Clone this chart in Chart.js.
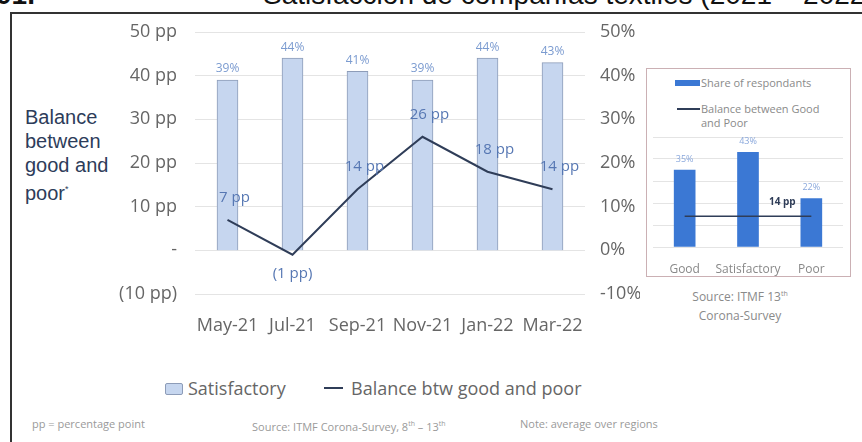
<!DOCTYPE html>
<html><head><meta charset="utf-8">
<script src="https://cdn.jsdelivr.net/npm/chart.js@4.4.1/dist/chart.umd.min.js"></script>
<style>
html,body{margin:0;padding:0;background:#fff;width:862px;height:442px;overflow:hidden;position:relative;font-family:"Open Sans",Arial,sans-serif;}
.abs{position:absolute;white-space:nowrap;}
#num{left:-4px;top:-19px;font:bold 28px "Liberation Sans",Arial,sans-serif;line-height:28px;color:#111;}
#title{left:263px;top:-19px;font:28px "Liberation Sans",Arial,sans-serif;line-height:28px;color:#111;}
#frame{left:10px;top:12px;width:900px;height:500px;border-left:2px solid #333;border-top:2px solid #333;}
#ytitle{left:25px;top:105px;font:20px "Liberation Sans",Arial,sans-serif;line-height:24px;color:#2d3c5a;}
#inbox{left:646px;top:68px;width:205px;height:209px;border:1.5px solid #cbb0b4;box-sizing:border-box;}
.inleg{font-size:11px;color:#8a8a8a;line-height:14px;}
.src{font-size:12px;color:#8a8a8a;text-align:center;line-height:19px;}
.leg{font-size:18px;color:#666;line-height:20px;}
.foot{font-size:11px;color:#9a9a9a;line-height:14px;}
</style></head>
<body>
<div id="num" class="abs">01.</div>
<div id="title" class="abs">Satisfacción de compañías textiles (2021 – 2022)</div>
<div id="frame" class="abs"></div>
<div id="ytitle" class="abs">Balance<br>between<br>good and<br>poor<sup style="font-size:9px">*</sup></div>
<canvas id="main" class="abs" style="left:0;top:0" width="640" height="340"></canvas>
<div id="inbox" class="abs"></div>
<div class="abs" style="left:675px;top:80px;width:25px;height:6px;background:#3b78d4"></div>
<div class="abs inleg" style="left:701px;top:76px">Share of respondants</div>
<div class="abs" style="left:677px;top:108px;width:23px;height:2px;background:#2f3d58"></div>
<div class="abs inleg" style="left:701px;top:102px">Balance between Good<br>and Poor</div>
<canvas id="inset" class="abs" style="left:647px;top:128px" width="205" height="148"></canvas>
<div class="abs src" style="left:680px;top:284px;width:120px">Source: ITMF 13<sup style="font-size:7px">th</sup><br>Corona-Survey</div>
<div class="abs" style="left:165px;top:383px;width:16px;height:10px;background:#c6d6ef;border:1px solid #8d9cb8;border-radius:2px"></div>
<div class="abs leg" style="left:188px;top:378px">Satisfactory</div>
<div class="abs" style="left:324px;top:387px;width:19px;height:2px;background:#2f3d58"></div>
<div class="abs leg" style="left:351px;top:378px">Balance btw good and poor</div>
<div class="abs foot" style="left:32px;top:417px">pp = percentage point</div>
<div class="abs foot" style="left:252px;top:417px">Source: ITMF Corona-Survey, 8<sup style="font-size:7px">th</sup> – 13<sup style="font-size:7px">th</sup></div>
<div class="abs foot" style="left:520px;top:417px">Note: average over regions</div>
<script>
// ---- data ----
const months = ["May-21", "Jul-21", "Sep-21", "Nov-21", "Jan-22", "Mar-22"];
const satisfactory = [39, 44, 41, 39, 44, 43];       // % of respondents
const balance = [7, -1, 14, 26, 18, 14];             // pp good minus poor
const axisTicks = [-10, 0, 10, 20, 30, 40, 50];
const insetCategories = ["Good", "Satisfactory", "Poor"];
const insetShare = [35, 43, 22];
const insetBalance = [14, 14, 14];

Chart.defaults.font.family = "'Open Sans', sans-serif";
Chart.defaults.animation = false;

const valueLabels = {
  id: 'valueLabels',
  afterDatasetsDraw(chart) {
    const ctx = chart.ctx;
    chart.data.datasets.forEach((ds, di) => {
      const cfg = ds.valueLabel; if (!cfg) return;
      const meta = chart.getDatasetMeta(di);
      meta.data.forEach((el, i) => {
        if (cfg.only !== undefined && cfg.only !== i) return;
        const v = ds.data[i];
        const neg = v < 0;
        ctx.save();
        ctx.font = cfg.font; ctx.fillStyle = cfg.color;
        ctx.textAlign = 'center'; ctx.textBaseline = 'middle';
        ctx.fillText(cfg.format(v), el.x + (neg ? 0 : cfg.dx), el.y + (neg ? cfg.dyNeg : cfg.dy));
        ctx.restore();
      });
    });
  }
};
const ppFmt = v => v < 0 ? `(${-v} pp)` : `${v} pp`;

new Chart(document.getElementById('main'), {
  data: {
    labels: months,
    datasets: [
      { type: 'line', label: 'Balance btw good and poor', data: balance, yAxisID: 'y',
        borderColor: '#2f3d58', borderWidth: 2, pointRadius: 0, tension: 0, order: 1,
        valueLabel: { font: "15px 'Open Sans'", color: '#5677b3', dx: 7, dy: -22, dyNeg: 19, format: ppFmt } },
      { type: 'bar', label: 'Satisfactory', data: satisfactory, yAxisID: 'y1',
        backgroundColor: '#c6d6ef', borderColor: '#8d9cb8', borderWidth: 1, barThickness: 21, order: 2,
        valueLabel: { font: "12px 'Open Sans'", color: '#7b9bd0', dx: 0, dy: -11, dyNeg: 11, format: v => v + '%' } }
    ]
  },
  options: {
    responsive: false,
    layout: { padding: { top: 32, left: 0, right: 0, bottom: 0 } },
    plugins: { legend: { display: false }, tooltip: { enabled: false } },
    scales: {
      x: { grid: { display: false }, border: { display: false },
           ticks: { color: '#666', font: { size: 18 }, padding: 13, maxRotation: 0, autoSkip: false },
           afterFit(s) { s.height = 46; } },
      y: { position: 'left', min: -10, max: 50,
           afterBuildTicks(s) { s.ticks = axisTicks.map(v => ({ value: v })); },
           ticks: { color: '#666', font: { size: 18 }, padding: 18,
                    callback: v => v === 0 ? '-' : ppFmt(v) },
           grid: { color: '#e4e4e4', drawTicks: false }, border: { display: false },
           afterFit(s) { s.width = 195; } },
      y1: { position: 'right', min: -10, max: 50,
            afterBuildTicks(s) { s.ticks = axisTicks.map(v => ({ value: v })); },
            ticks: { color: '#666', font: { size: 18 }, padding: 15, callback: v => v + '%' },
            grid: { display: false, drawTicks: false }, border: { display: false },
            afterFit(s) { s.width = 55; } }
    }
  },
  plugins: [valueLabels]
});

new Chart(document.getElementById('inset'), {
  data: {
    labels: insetCategories,
    datasets: [
      { type: 'line', label: 'Balance between Good and Poor', data: insetBalance,
        borderColor: '#2f3d58', borderWidth: 1.5, pointRadius: 0, order: 1,
        valueLabel: { only: 2, font: "bold 10px 'Open Sans'", color: '#2f3d58', dx: -29, dy: -14, dyNeg: 14, format: v => v + ' pp' } },
      { type: 'bar', label: 'Share of respondants', data: insetShare,
        backgroundColor: '#3b78d4', barThickness: 21, order: 2,
        valueLabel: { font: "9px 'Open Sans'", color: '#8aa8dc', dx: 0, dy: -11, dyNeg: 11, format: v => v + '%' } }
    ]
  },
  options: {
    responsive: false,
    layout: { padding: { top: 9, right: 9, left: 0, bottom: 0 } },
    plugins: { legend: { display: false }, tooltip: { enabled: false } },
    scales: {
      x: { grid: { display: false }, border: { display: false },
           ticks: { color: '#888', font: { size: 12 }, padding: 7, maxRotation: 0, autoSkip: false },
           afterFit(s) { s.height = 29; } },
      y: { min: 0, max: 50, ticks: { display: false, stepSize: 10 },
           grid: { color: '#e4e4e4', drawTicks: false }, border: { display: false },
           afterFit(s) { s.width = 6; } }
    }
  },
  plugins: [valueLabels]
});
</script>
</body></html>
